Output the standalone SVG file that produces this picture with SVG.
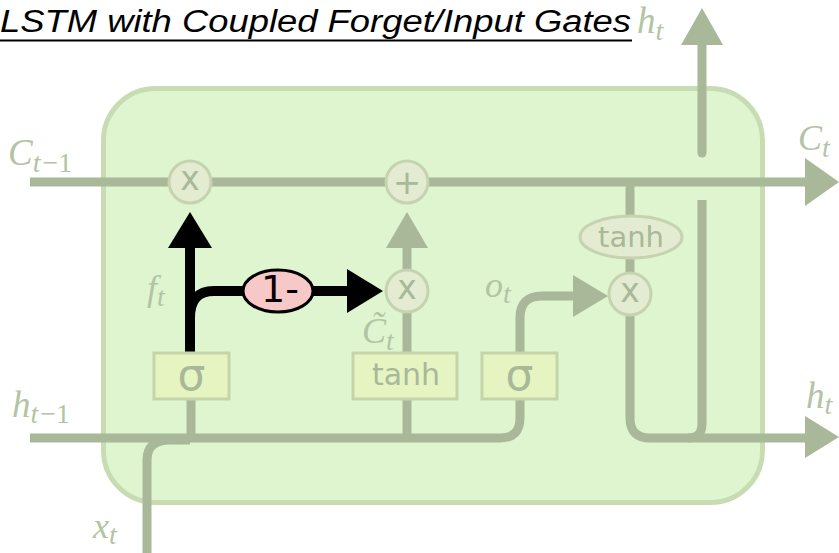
<svg xmlns="http://www.w3.org/2000/svg" width="839" height="553" viewBox="0 0 839 553">
<style>
.cell{fill:#dff5cf;stroke:#c7dcb3;stroke-width:5}
.ln{fill:none;stroke:#a8b899;stroke-width:9}
.ah{fill:#a8b899}
.bl{fill:none;stroke:#000;stroke-width:10}
.bah{fill:#000}
.op{fill:#e3ecd0;stroke:#c5d3b0;stroke-width:3}
.gate{fill:#e6f4c2;stroke:#c6d5a7;stroke-width:3}
.opt{font-family:"DejaVu Sans",sans-serif;fill:#a8b899;text-anchor:middle}
.math{font-family:"Liberation Serif",serif;font-style:italic;fill:#b2c4a4}
.sub{font-size:28px}
.up{font-style:normal}
</style>
<g id="title">
<text x="0" y="32" font-family="Liberation Sans, Arial, sans-serif" font-style="italic" font-size="31" textLength="631" lengthAdjust="spacingAndGlyphs" fill="#000">LSTM with Coupled Forget/Input Gates</text>
<line x1="0" y1="40.5" x2="632" y2="40.5" stroke="#000" stroke-width="2"/>
</g>
<g id="cell">
<rect class="cell" x="103.5" y="88.5" width="659" height="414" rx="52"/>
</g>
<g id="connectors">
<path class="ln" d="M30,182 H806"/>
<polygon class="ah" points="805,158 839,182 805,206"/>
<path class="ln" d="M30,438 H500 Q520,438 520,418 V399"/>
<path class="ln" d="M147,553 V460 Q147,440 170,440 H190"/>
<path class="ln" d="M191,399 V438"/>
<path class="ln" d="M407,399 V438"/>
<path class="ln" d="M407,353 V312"/>
<path class="ln" d="M407,270 V247"/>
<polygon class="ah" points="386,248 407,212 428,248"/>
<path class="ln" d="M520,353 V318 Q520,296 542,296 H574"/>
<polygon class="ah" points="573,275 608,296 573,317"/>
<path class="ln" d="M630,182 V216"/>
<path class="ln" d="M630,258 V273"/>
<path class="ln" d="M630,315 V418 Q630,438 650,438 H806"/>
<polygon class="ah" points="805,416 839,437 805,458"/>
<path class="ln" d="M702,200 V424 Q702,438 688,438"/>
<path class="ln" d="M702,153 V44" stroke-linecap="round"/>
<polygon class="ah" points="681,45 702,8 723,45"/>
<path class="bl" d="M190,353 V247"/>
<polygon class="bah" points="168,248 190,212 212,248"/>
<path class="bl" d="M190,318 Q190,291 214,291 H244"/>
<path class="bl" d="M312,291 H348"/>
<polygon class="bah" points="347,269 383,291 347,313"/>
</g>
<g id="forget-mult">
<circle class="op" cx="190" cy="182" r="21"/>
<text class="opt" x="190" y="190" font-size="33">x</text>
</g>
<g id="cell-add">
<circle class="op" cx="407" cy="182" r="21"/>
<text class="opt" x="407" y="194" font-size="34">+</text>
</g>
<g id="input-mult">
<circle class="op" cx="407" cy="291" r="21"/>
<text class="opt" x="407" y="299" font-size="33">x</text>
</g>
<g id="output-mult">
<circle class="op" cx="630" cy="294" r="21"/>
<text class="opt" x="630" y="302" font-size="33">x</text>
</g>
<g id="output-tanh">
<ellipse class="op" cx="631" cy="237" rx="51" ry="21"/>
<text class="opt" x="631" y="247" font-size="29">tanh</text>
</g>
<g id="forget-gate">
<rect class="gate" x="154" y="353" width="75" height="46"/>
<text class="opt" x="191.5" y="390" font-size="44">σ</text>
</g>
<g id="candidate-gate">
<rect class="gate" x="353" y="353" width="104" height="46"/>
<text class="opt" x="406" y="385" font-size="30">tanh</text>
</g>
<g id="output-gate">
<rect class="gate" x="482" y="353" width="75" height="46"/>
<text class="opt" x="519.5" y="390" font-size="44">σ</text>
</g>
<g id="one-minus">
<ellipse cx="278" cy="291" rx="35" ry="21" fill="#f7c8c8" stroke="#000" stroke-width="3"/>
<text x="280" y="302" font-family="DejaVu Sans, sans-serif" font-size="38" text-anchor="middle" fill="#000">1-</text>
</g>
<g id="labels">
<text class="math" x="8" y="165" font-size="37">C<tspan class="sub" dy="7">t</tspan><tspan class="sub up" dx="2">−1</tspan></text>
<text class="math" x="12" y="417" font-size="37">h<tspan class="sub" dy="6">t</tspan><tspan class="sub up" dx="2">−1</tspan></text>
<text class="math" x="93" y="538" font-size="36">x<tspan class="sub" dy="6">t</tspan></text>
<text class="math" x="147" y="300" font-size="36">f<tspan class="sub" dy="6">t</tspan></text>
<text class="math" x="485" y="297" font-size="36">o<tspan class="sub" dy="6">t</tspan></text>
<text class="math" x="362" y="343" font-size="36">C̃<tspan class="sub" dy="7">t</tspan></text>
<text class="math" x="798" y="150" font-size="36">C<tspan class="sub" dy="7">t</tspan></text>
<text class="math" x="806" y="408" font-size="37">h<tspan class="sub" dy="6">t</tspan></text>
<text class="math" x="637" y="33" font-size="37">h<tspan class="sub" dy="7">t</tspan></text>
</g>
</svg>
